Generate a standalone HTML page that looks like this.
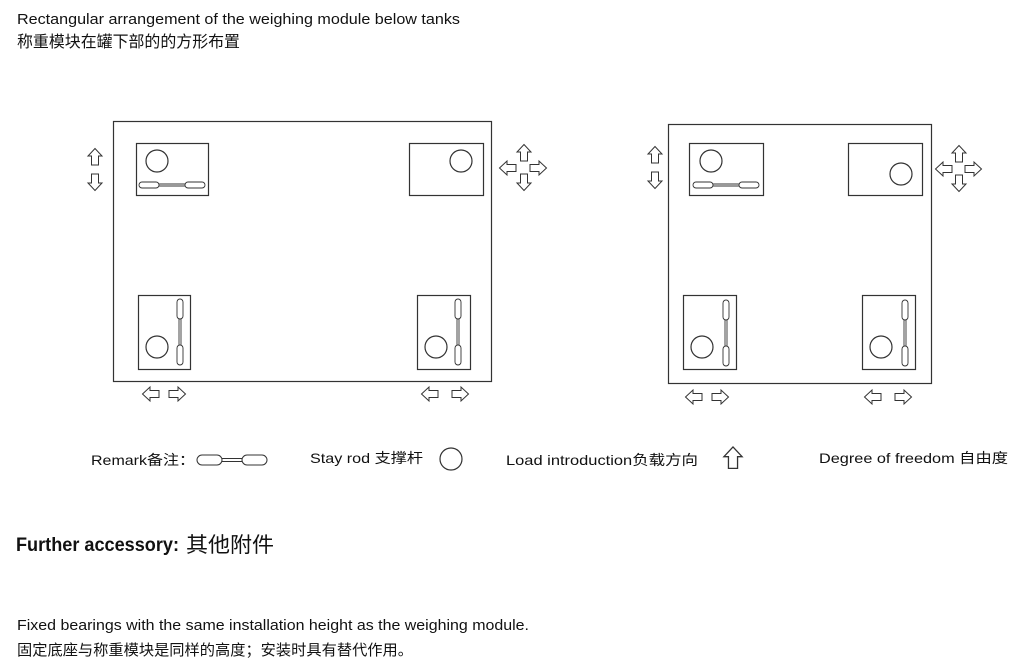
<!DOCTYPE html>
<html><head><meta charset="utf-8"><style>
html,body{margin:0;padding:0;background:#fff;}
svg{display:block}
text{font-family:"Liberation Sans","Noto Sans CJK SC",sans-serif;fill:#111}
</style></head><body>
<svg width="1029" height="669" viewBox="0 0 1029 669" xmlns="http://www.w3.org/2000/svg">
<defs>
<path id="ar" d="M-8,-3.5 L1,-3.5 L1,-7 L8.5,0 L1,7 L1,3.5 L-8,3.5 Z" fill="#fff" stroke="#333" stroke-width="1"/>
<g id="rodh">
<rect x="0" y="-3" width="20" height="6" rx="3" fill="#fff" stroke="#333"/>
<rect x="46" y="-3" width="20" height="6" rx="3" fill="#fff" stroke="#333"/>
<line x1="20" y1="-1" x2="46" y2="-1" stroke="#333"/>
<line x1="20" y1="1" x2="46" y2="1" stroke="#333"/>
</g>
</defs>
<text x="17" y="24" font-size="15" textLength="443" lengthAdjust="spacingAndGlyphs">Rectangular arrangement of the weighing module below tanks</text>
<text x="17" y="47" font-size="16" textLength="223" lengthAdjust="spacingAndGlyphs">称重模块在罐下部的的方形布置</text>

<g fill="none" stroke="#333" stroke-width="1.2">
<rect x="113.5" y="121.5" width="378" height="260"/>
<rect x="136.5" y="143.5" width="72" height="52"/>
<rect x="409.5" y="143.5" width="74" height="52"/>
<rect x="138.5" y="295.5" width="52" height="74"/>
<rect x="417.5" y="295.5" width="53" height="74"/>
<circle cx="157" cy="161" r="11"/>
<circle cx="461" cy="161" r="11"/>
<circle cx="157" cy="347" r="11"/>
<circle cx="436" cy="347" r="11"/>

<rect x="668.5" y="124.5" width="263" height="259"/>
<rect x="689.5" y="143.5" width="74" height="52"/>
<rect x="848.5" y="143.5" width="74" height="52"/>
<rect x="683.5" y="295.5" width="53" height="74"/>
<rect x="862.5" y="295.5" width="53" height="74"/>
<circle cx="711" cy="161" r="11"/>
<circle cx="901" cy="174" r="11"/>
<circle cx="702" cy="347" r="11"/>
<circle cx="881" cy="347" r="11"/>
</g>
<g stroke-width="0.9">
<use href="#rodh" transform="translate(139,185)"/>
<use href="#rodh" transform="translate(180,299) rotate(90)"/>
<use href="#rodh" transform="translate(458,299) rotate(90)"/>
<use href="#rodh" transform="translate(693,185)"/>
<use href="#rodh" transform="translate(726,300) rotate(90)"/>
<use href="#rodh" transform="translate(905,300) rotate(90)"/>
</g>
<use href="#ar" transform="translate(95,157) rotate(-90)"/>
<use href="#ar" transform="translate(95,182) rotate(90)"/>
<use href="#ar" transform="translate(524,153) rotate(-90)"/>
<use href="#ar" transform="translate(524,182) rotate(90)"/>
<use href="#ar" transform="translate(508,168) rotate(180)"/>
<use href="#ar" transform="translate(538,168)"/>
<use href="#ar" transform="translate(151,394) rotate(180)"/>
<use href="#ar" transform="translate(177,394)"/>
<use href="#ar" transform="translate(430,394) rotate(180)"/>
<use href="#ar" transform="translate(460,394)"/>
<use href="#ar" transform="translate(655,155) rotate(-90)"/>
<use href="#ar" transform="translate(655,180) rotate(90)"/>
<use href="#ar" transform="translate(959,154) rotate(-90)"/>
<use href="#ar" transform="translate(959,183) rotate(90)"/>
<use href="#ar" transform="translate(944,169) rotate(180)"/>
<use href="#ar" transform="translate(973,169)"/>
<use href="#ar" transform="translate(694,397) rotate(180)"/>
<use href="#ar" transform="translate(720,397)"/>
<use href="#ar" transform="translate(873,397) rotate(180)"/>
<use href="#ar" transform="translate(903,397)"/>

<text x="91" y="465" font-size="14" textLength="104" lengthAdjust="spacingAndGlyphs">Remark备注：</text>
<g transform="translate(197,460)">
<rect x="0" y="-5" width="25" height="10" rx="5" fill="#fff" stroke="#333"/>
<rect x="45" y="-5" width="25" height="10" rx="5" fill="#fff" stroke="#333"/>
<line x1="25" y1="-1.5" x2="45" y2="-1.5" stroke="#333"/>
<line x1="25" y1="1.5" x2="45" y2="1.5" stroke="#333"/>
</g>
<text x="310" y="463" font-size="14" textLength="113" lengthAdjust="spacingAndGlyphs">Stay rod 支撑杆</text>
<circle cx="451" cy="459" r="11" fill="none" stroke="#333" stroke-width="1.2"/>
<text x="506" y="465" font-size="14" textLength="192" lengthAdjust="spacingAndGlyphs">Load  introduction负载方向</text>
<use href="#ar" transform="translate(733,458) scale(1.3) rotate(-90)"/>
<text x="819" y="463" font-size="14" textLength="189" lengthAdjust="spacingAndGlyphs">Degree of freedom  自由度</text>

<text x="16" y="551" font-size="19" font-weight="bold" textLength="163" lengthAdjust="spacingAndGlyphs">Further  accessory:</text>
<text x="186" y="552" font-size="21" textLength="88" lengthAdjust="spacingAndGlyphs">其他附件</text>
<text x="17" y="630" font-size="15" textLength="512" lengthAdjust="spacingAndGlyphs">Fixed bearings with the same installation height as the weighing module.</text>
<text x="17" y="655" font-size="15" textLength="396" lengthAdjust="spacingAndGlyphs">固定底座与称重模块是同样的高度；安装时具有替代作用。</text>
</svg>
</body></html>
